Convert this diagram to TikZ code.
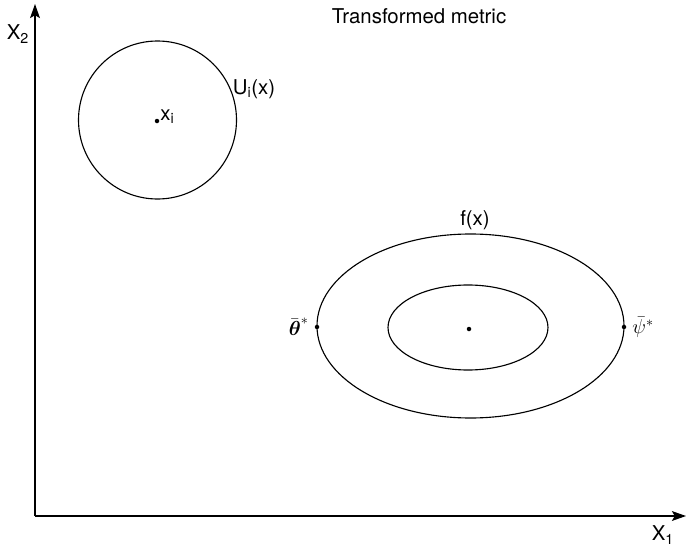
\documentclass[tikz,border=0pt]{standalone}
\usepackage{fontspec}
\usepackage{amsmath,amssymb}
\setmainfont{TeX Gyre Heros}
\usetikzlibrary{positioning,arrows.meta}

\begin{document}
\begin{tikzpicture}[x=0.025cm,y=-0.025cm,
  axis/.style={-{Stealth[length=10pt,width=7pt,inset=2pt]},line width=0.9pt},
  curve/.style={line width=0.8pt},
  pt/.style={circle,fill,inner sep=0pt,minimum size=3.2pt},
  lbl/.style={font=\fontsize{14.5}{16}\selectfont,inner sep=1pt}]
\useasboundingbox (0,0) rectangle (686,546);
\coordinate (origin) at (35,516);
\coordinate (ytip) at (35,4);
\coordinate (xtip) at (686,516);
\draw[axis] (origin)--(ytip);
\draw[axis] (origin)--(xtip);
\node[lbl] (x2) at (18,34) {X\textsubscript{2}};
\node[lbl] (x1) at (663,535) {X\textsubscript{1}};
\node[lbl] (title) at (419,16) {Transformed metric};
% neighbourhood of x_i
\draw[curve] (157.5,120) circle (79);
\node[pt] (xi) at (157,121) {};
\node[lbl,above right=-4pt and 0pt of xi] (xilbl) {x\textsubscript{i}};
\node[lbl] (ui) at (254,89) {U\textsubscript{i}(x)};
% level sets of f
\draw[curve] (470.5,326) ellipse (153.5 and 92);
\draw[curve] (468,327.5) ellipse (80 and 42.5);
\node[pt] (centre) at (469,329) {};
\node[lbl] (fx) at (475,220) {f(x)};
\node[pt] (theta) at (317,327) {};
\node[pt] (psi) at (624,327) {};
\node[lbl,left=3pt of theta] (thetalbl) {$\bar{\boldsymbol{\theta}}^{*}$};
\node[lbl,right=3pt of psi] (psilbl) {$\bar{\psi}^{*}$};
\end{tikzpicture}
\end{document}
